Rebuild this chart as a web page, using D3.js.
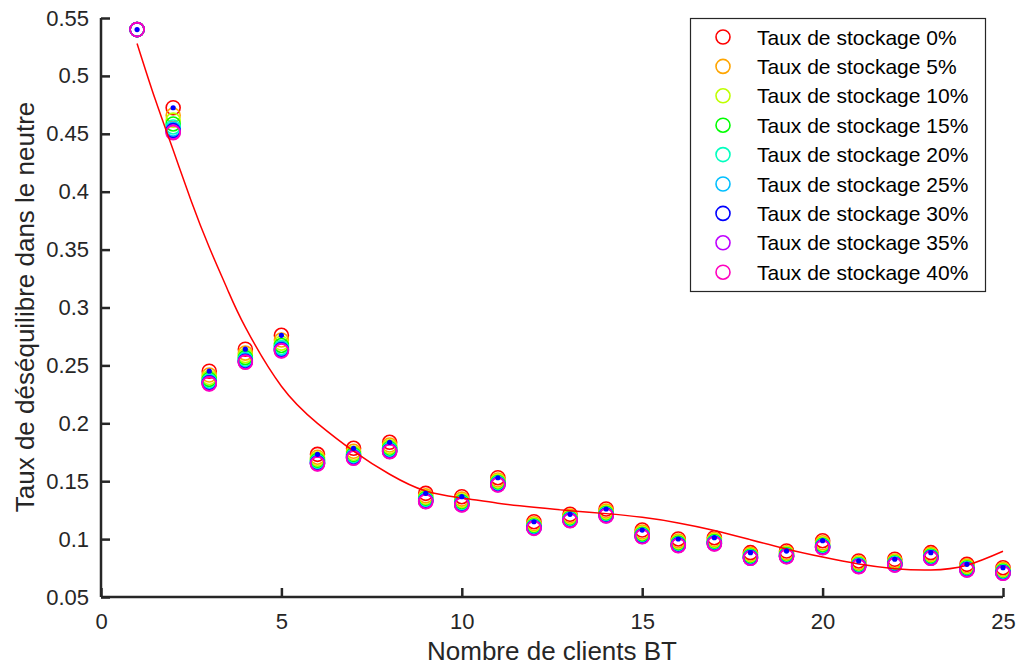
<!DOCTYPE html>
<html><head><meta charset="utf-8">
<script src="https://cdn.jsdelivr.net/npm/d3@7"></script>
<style>body{margin:0;background:#fff}svg{display:block}text{font-family:Arial,"Liberation Sans",Helvetica,sans-serif}</style>
</head><body>
<svg id="c" width="1019" height="672"></svg>
<script>
const clients = [1,2,3,4,5,6,7,8,9,10,11,12,13,14,15,16,17,18,19,20,21,22,23,24,25];
const seriesNames = ["Taux de stockage 0%","Taux de stockage 5%","Taux de stockage 10%","Taux de stockage 15%","Taux de stockage 20%","Taux de stockage 25%","Taux de stockage 30%","Taux de stockage 35%","Taux de stockage 40%"];
const seriesColors = ["#FF0000","#FFA500","#BFFF00","#00FF00","#00FFBF","#00BFFF","#0000FF","#BF00FF","#FF00BF"];
const s0  = [0.540,0.4725,0.2450,0.2640,0.2760,0.1732,0.1784,0.1836,0.1395,0.1366,0.1530,0.1150,0.1214,0.1260,0.1078,0.1001,0.1012,0.0883,0.0897,0.0986,0.0811,0.0826,0.0883,0.0782,0.0753];
const s5  = [0.540,0.4661,0.2417,0.2606,0.2719,0.1707,0.1758,0.1812,0.1373,0.1345,0.1511,0.1133,0.1198,0.1242,0.1061,0.0984,0.0996,0.0868,0.0882,0.0968,0.0796,0.0811,0.0868,0.0767,0.0739];
const s10 = [0.540,0.4618,0.2395,0.2584,0.2692,0.1691,0.1741,0.1796,0.1359,0.1331,0.1499,0.1122,0.1187,0.1230,0.1049,0.0972,0.0985,0.0859,0.0873,0.0956,0.0787,0.0801,0.0859,0.0758,0.0729];
const s15 = [0.540,0.4585,0.2379,0.2567,0.2672,0.1678,0.1728,0.1783,0.1348,0.1320,0.1489,0.1113,0.1178,0.1221,0.1040,0.0963,0.0977,0.0851,0.0865,0.0947,0.0779,0.0794,0.0851,0.0750,0.0722];
const s20 = [0.540,0.4559,0.2365,0.2553,0.2655,0.1668,0.1718,0.1774,0.1340,0.1311,0.1481,0.1106,0.1172,0.1214,0.1033,0.0956,0.0970,0.0845,0.0859,0.0940,0.0773,0.0788,0.0845,0.0744,0.0716];
const s25 = [0.540,0.4540,0.2355,0.2543,0.2643,0.1661,0.1710,0.1766,0.1333,0.1305,0.1476,0.1101,0.1167,0.1208,0.1028,0.0951,0.0966,0.0841,0.0855,0.0934,0.0769,0.0783,0.0841,0.0740,0.0712];
const s30 = [0.540,0.4527,0.2349,0.2536,0.2635,0.1656,0.1705,0.1761,0.1329,0.1301,0.1472,0.1098,0.1163,0.1205,0.1025,0.0948,0.0962,0.0838,0.0852,0.0931,0.0766,0.0780,0.0838,0.0737,0.0709];
const s35 = [0.540,0.4516,0.2343,0.2530,0.2628,0.1652,0.1701,0.1757,0.1325,0.1297,0.1469,0.1095,0.1161,0.1202,0.1022,0.0945,0.0960,0.0835,0.0849,0.0928,0.0763,0.0777,0.0835,0.0734,0.0706];
const s40 = [0.540,0.4510,0.2340,0.2527,0.2624,0.1649,0.1698,0.1755,0.1323,0.1295,0.1467,0.1093,0.1159,0.1200,0.1020,0.0943,0.0958,0.0834,0.0848,0.0926,0.0762,0.0776,0.0834,0.0733,0.0705];
const refDots = [0.540,0.4725,0.2450,0.2640,0.2760,0.1732,0.1784,0.1836,0.1395,0.1366,0.1530,0.1150,0.1214,0.1260,0.1078,0.1001,0.1012,0.0883,0.0897,0.0986,0.0811,0.0826,0.0883,0.0782,0.0753];
const fitX = [1,1.5,2,2.5,3,3.5,4,5,6,7,8,9,10,11,12,13,14,15,16,17,18,19,20,21,22,23,24,25];
const fitY = [0.528,0.480,0.436,0.392,0.352,0.316,0.283,0.232,0.200,0.176,0.156,0.1415,0.1355,0.131,0.1275,0.1245,0.122,0.1188,0.114,0.1075,0.0995,0.0915,0.0845,0.0785,0.0745,0.0733,0.0775,0.0895];
const xTicks = [0,5,10,15,20,25];
const yTicks = [0.05,0.1,0.15,0.2,0.25,0.3,0.35,0.4,0.45,0.5,0.55];

const allSeries = [s0,s5,s10,s15,s20,s25,s30,s35,s40];
const svg = d3.select("#c");
const x = d3.scaleLinear().domain([0,25]).range([101,1003]);
const y = d3.scaleLinear().domain([0.05,0.55]).range([597,18]);
const axisColor = "#262626";

// axes
const gx = svg.append("g").attr("transform","translate(0,597)")
  .call(d3.axisBottom(x).tickValues(xTicks).tickSize(-9).tickPadding(16).tickFormat(d3.format("d")));
const gy = svg.append("g").attr("transform","translate(101,0)")
  .call(d3.axisLeft(y).tickValues(yTicks).tickSize(-9).tickPadding(12).tickFormat(d=>String(+d.toFixed(2))));
[gx,gy].forEach(g=>{
  g.select(".domain").attr("stroke",axisColor).attr("stroke-width",2.5);
  g.selectAll(".tick line").attr("stroke",axisColor).attr("stroke-width",2.5);
  g.selectAll(".tick text").attr("fill","#262626").attr("font-size",22).attr("font-family","Arial, 'Liberation Sans', sans-serif");
});
gx.select(".domain").attr("d","M101,0H1003");
gy.select(".domain").attr("d","M0,597V18");

svg.append("text").attr("x",552).attr("y",660).attr("text-anchor","middle")
  .attr("font-size",26).attr("fill","#262626").text("Nombre de clients BT");
svg.append("text").attr("transform","translate(34,307) rotate(-90)").attr("text-anchor","middle")
  .attr("font-size",26).attr("fill","#262626").text("Taux de déséquilibre dans le neutre");

// circles
allSeries.forEach((vals,i)=>{
  svg.append("g").selectAll("circle").data(vals).join("circle")
    .attr("cx",(d,j)=>x(clients[j])).attr("cy",d=>y(d)).attr("r",7)
    .attr("fill","none").attr("stroke",seriesColors[i]).attr("stroke-width",1.6);
});

// fit curve
const fitPts = fitX.map((v,i)=>[v,fitY[i]]);
svg.append("path").datum(fitPts)
  .attr("d",d3.line().x(d=>x(d[0])).y(d=>y(d[1])).curve(d3.curveNatural))
  .attr("fill","none").attr("stroke","#FF0000").attr("stroke-width",1.5);

// reference dots
svg.append("g").selectAll("circle").data(refDots).join("circle")
  .attr("cx",(d,j)=>x(clients[j])).attr("cy",d=>y(d)).attr("r",2.6).attr("fill","#0000FF");

// legend
const lg = svg.append("g");
lg.append("rect").attr("x",690.5).attr("y",18.5).attr("width",295).attr("height",273)
  .attr("fill","#fff").attr("stroke","#262626").attr("stroke-width",1.2);
seriesNames.forEach((name,i)=>{
  const yy = 37 + i*29.4;
  lg.append("circle").attr("cx",723).attr("cy",yy).attr("r",7).attr("fill","none")
    .attr("stroke",seriesColors[i]).attr("stroke-width",1.6);
  lg.append("text").attr("x",757).attr("y",yy+7.5).attr("font-size",21).attr("fill","#000").text(name);
});
</script>
</body></html>
